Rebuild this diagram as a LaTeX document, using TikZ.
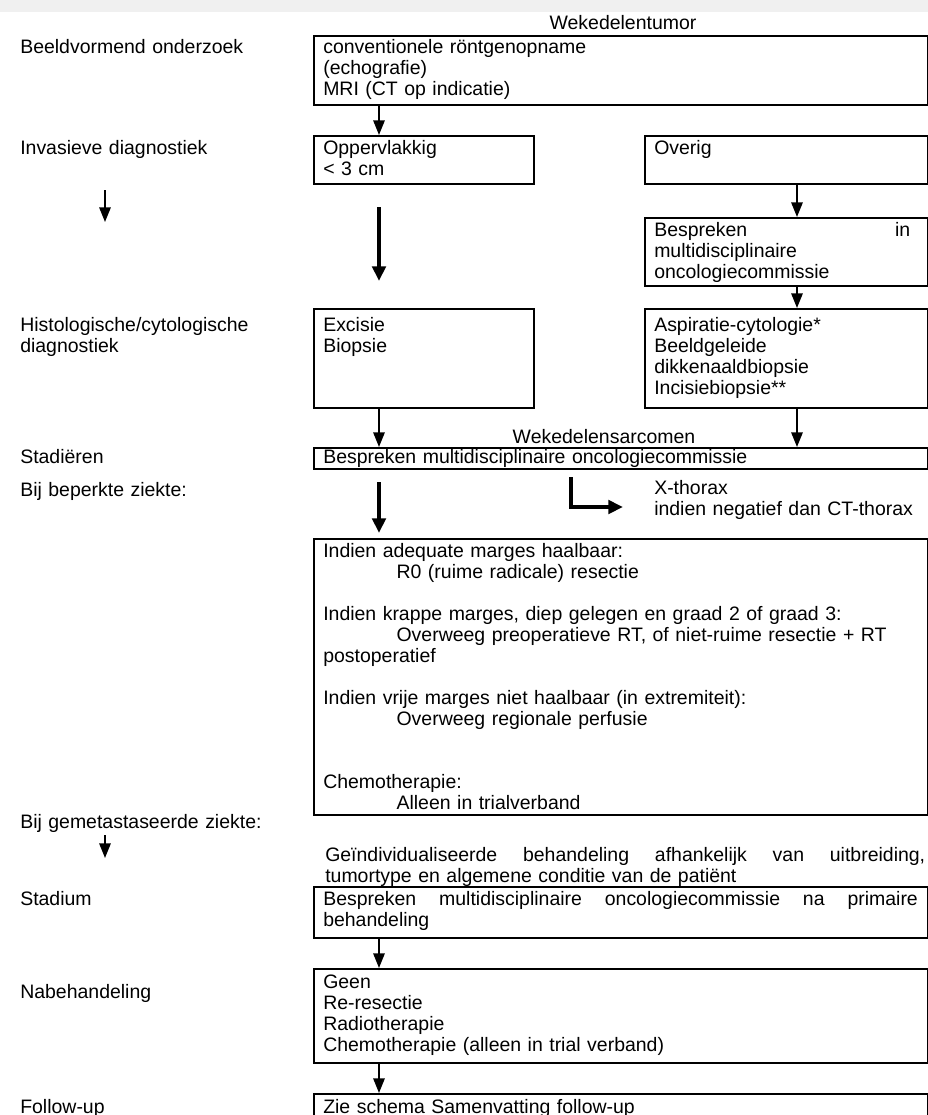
\documentclass[tikz,border=0pt]{standalone}
\usepackage{fontspec}
\setmainfont{Liberation Sans}
\usetikzlibrary{arrows.meta}
\newcommand{\tabin}{\hspace*{55pt}}

\tikzset{
  box/.style={draw,line width=1.3pt,anchor=north west,inner sep=0pt},
  txt/.style={anchor=base west,inner sep=0pt,align=left,text width=440pt},
  lbl/.style={anchor=base west,inner sep=0pt,align=left,text width=200pt},
  arr/.style={line width=1.5pt,-{Triangle[length=11pt,width=8.5pt]}},
  fatarr/.style={line width=3.6pt,line join=miter,-{Triangle[length=11pt,width=10pt]}},
}

\begin{document}
\begin{tikzpicture}[x=0.75pt,y=-0.75pt,font=\fontsize{14.6pt}{15.75pt}\selectfont]
\useasboundingbox (0,0) rectangle (928,1115);
\fill[gray!12] (0,0) rectangle (928,12);

% columns of the arrows
\coordinate (colL) at (379,0);
\coordinate (colR) at (797,0);

% labels on the left
\node[lbl] (lBeeld) at (20,53) {Beeldvormend onderzoek};
\node[lbl] (lInv) at (20,154) {Invasieve diagnostiek};
\node[lbl] (lHist) at (20,331) {Histologische/cytologische\\diagnostiek};
\node[lbl] (lStad) at (20,463) {Stadiëren};
\node[lbl] (lBep) at (20,496) {Bij beperkte ziekte:};
\node[lbl] (lMet) at (20,828) {Bij gemetastaseerde ziekte:};
\node[lbl] (lStadium) at (20,905) {Stadium};
\node[lbl] (lNa) at (20,998) {Nabehandeling};
\node[lbl] (lFol) at (20,1113) {Follow-up};
\coordinate (la1s) at (105,190);
\coordinate (la1e) at (105,222);
\coordinate (la2s) at (105,835);
\coordinate (la2e) at (105,858);
\draw[arr] (la1s) -- (la1e);
\draw[arr] (la2s) -- (la2e);

% titles
\node[anchor=base,inner sep=0pt] (tTumor) at (623,29) {Wekedelentumor};
\node[anchor=base,inner sep=0pt] (tSarc) at (604,443) {Wekedelensarcomen};

% boxes
\node[box,minimum width=460.5pt,minimum height=51.75pt] (beeld) at (313,35) {};
\node[box,minimum width=165pt,minimum height=36pt] (opp) at (313,135) {};
\node[box,minimum width=212.25pt,minimum height=36pt] (overig) at (644,135) {};
\node[box,minimum width=212.25pt,minimum height=51pt] (besp) at (644,217) {};
\node[box,minimum width=165pt,minimum height=74.25pt] (exc) at (313,308) {};
\node[box,minimum width=212.25pt,minimum height=74.25pt] (asp) at (644,308) {};
\node[box,minimum width=460.5pt,minimum height=15.75pt] (stad) at (313,447) {};
\node[box,minimum width=460.5pt,minimum height=207pt] (beperkt) at (313,538) {};
\node[box,minimum width=460.5pt,minimum height=38.25pt] (na) at (313,886) {};
\node[box,minimum width=460.5pt,minimum height=70.5pt] (nabeh) at (313,968) {};
\node[box,minimum width=460.5pt,minimum height=30pt] (follow) at (313,1093) {};

% texts
\node[txt] (tBeeld) at (323,53) {conventionele röntgenopname\\(echografie)\\MRI (CT op indicatie)};
\node[txt,text width=200pt] (tOpp) at (323,154) {Oppervlakkig\\< 3 cm};
\node[txt,text width=192pt] (tOverig) at (654,154) {Overig};
\node[txt,text width=200pt] (tBesp) at (654,236) {\hbox to 192pt{Bespreken\hfill in}\\multidisciplinaire\\oncologiecommissie};
\node[txt,text width=200pt] (tExc) at (323,331) {Excisie\\Biopsie};
\node[txt,text width=192pt] (tAsp) at (654,331) {Aspiratie-cytologie*\\Beeldgeleide\\dikkenaaldbiopsie\\Incisiebiopsie**};
\node[txt] (tStad) at (323,463) {Bespreken multidisciplinaire oncologiecommissie};
\node[txt,text width=200pt] (tThorax) at (654,494) {X-thorax\\indien negatief dan CT-thorax};
\node[txt] (tBeperkt) at (323,557) {Indien adequate marges haalbaar:\\
  \tabin R0 (ruime radicale) resectie\\
  \mbox{}\\
  Indien krappe marges, diep gelegen en graad 2 of graad 3:\\
  \tabin Overweeg preoperatieve RT, of niet-ruime resectie + RT\\
  postoperatief\\
  \mbox{}\\
  Indien vrije marges niet haalbaar (in extremiteit):\\
  \tabin Overweeg regionale perfusie\\
  \mbox{}\\
  \mbox{}\\
  Chemotherapie:\\
  \tabin Alleen in trialverband};
\node[txt,text width=460pt] (tGeind) at (325,861) {\hbox to 450pt{Geïndividualiseerde\hfill behandeling\hfill afhankelijk\hfill van\hfill uitbreiding,}\\tumortype en algemene conditie van de patiënt};
\node[txt,text width=460pt] (tNa) at (323,905) {\hbox to 446pt{Bespreken\hfill multidisciplinaire\hfill oncologiecommissie\hfill na\hfill primaire}\\behandeling};
\node[txt] (tNabeh) at (323,988) {Geen\\Re-resectie\\Radiotherapie\\Chemotherapie (alleen in trial verband)};
\node[txt] (tFollow) at (323,1113) {Zie schema Samenvatting follow-up};

% arrows
\draw[arr] (beeld.south -| colL) -- (opp.north -| colL);
\coordinate (f1s) at (379,207);
\coordinate (f1e) at (379,281);
\draw[fatarr] (f1s) -- (f1e);
\draw[arr] (overig.south -| colR) -- (besp.north -| colR);
\draw[arr] (besp.south -| colR) -- (asp.north -| colR);
\draw[arr] (exc.south -| colL) -- (stad.north -| colL);
\draw[arr] (asp.south -| colR) -- (stad.north -| colR);
\coordinate (f2s) at (379,482);
\coordinate (f2e) at (379,533);
\draw[fatarr] (f2s) -- (f2e);
\coordinate (el1) at (571,477);
\coordinate (el2) at (623,507);
\draw[fatarr,line width=3pt] (el1) |- (el2);
\draw[arr] (na.south -| colL) -- (nabeh.north -| colL);
\draw[arr] (nabeh.south -| colL) -- (follow.north -| colL);
\end{tikzpicture}
\end{document}
